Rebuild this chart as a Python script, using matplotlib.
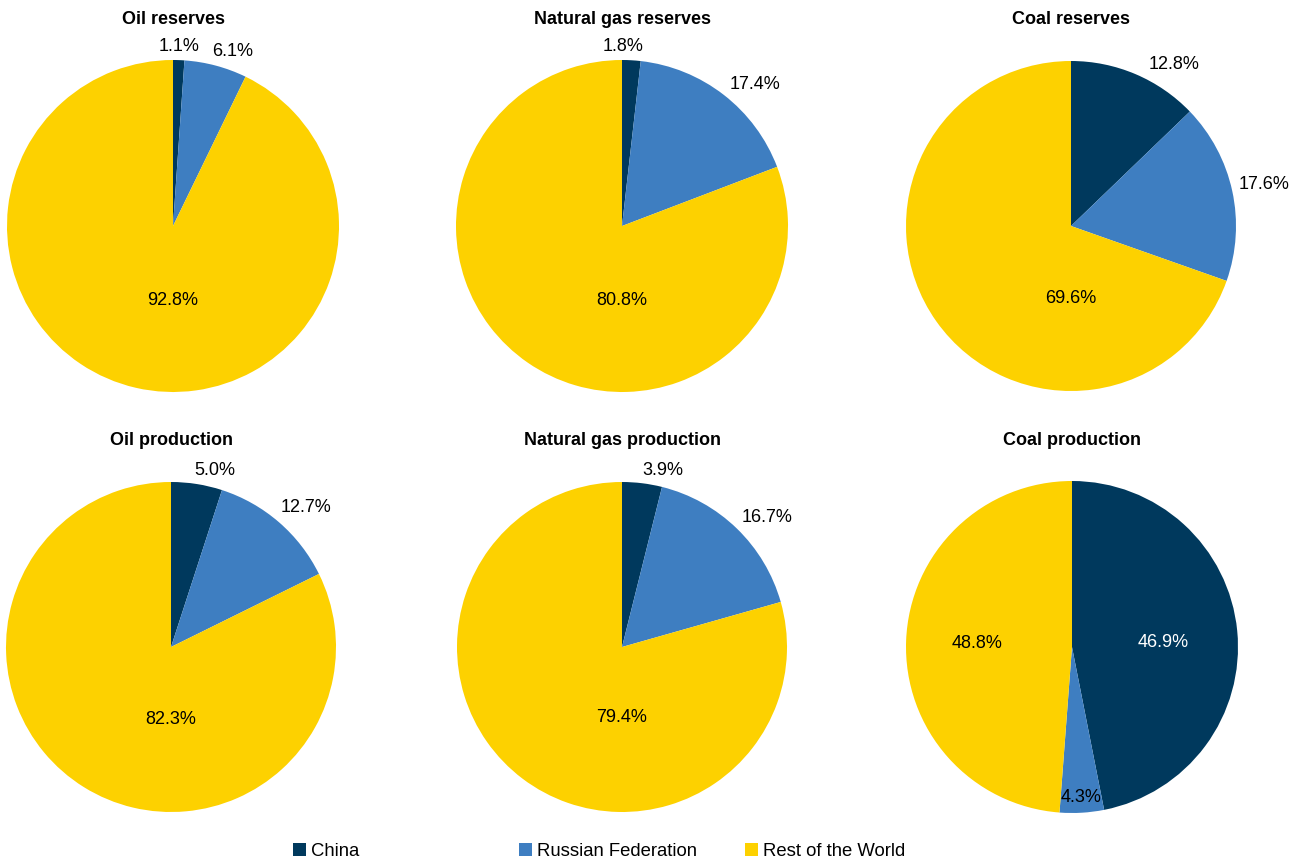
#!/usr/bin/env python3
"""China / Russia shares of world fossil fuel reserves and production."""

import numpy as np
import matplotlib
matplotlib.use("Agg")
import matplotlib.pyplot as plt
from matplotlib.patches import Patch

plt.rcParams["font.family"] = ["Liberation Sans", "DejaVu Sans"]

W, H = 1305, 864

SERIES = ["China", "Russian Federation", "Rest of the World"]
COLORS = ["#00395D", "#3E7EC1", "#FDD100"]

TITLES = [
    "Oil reserves", "Natural gas reserves", "Coal reserves",
    "Oil production", "Natural gas production", "Coal production",
]
# shares in percent: China, Russian Federation, Rest of the World
oil_reserves = [1.1, 6.1, 92.8]
gas_reserves = [1.8, 17.4, 80.8]
coal_reserves = [12.8, 17.6, 69.6]
oil_production = [5.0, 12.7, 82.3]
gas_production = [3.9, 16.7, 79.4]
coal_production = [46.9, 4.3, 48.8]
VALUES = [oil_reserves, gas_reserves, coal_reserves,
          oil_production, gas_production, coal_production]

# label placement: (distance from centre as fraction of radius, angle nudge in degrees)
LABEL_POS = [
    [(1.08, 0), (1.11, -4), (0.45, 0)],
    [(1.08, 3), (1.17, -5.4), (0.45, 0)],
    [(1.16, -9.5), (1.20, 0), (0.44, 0)],
    [(1.10, -5), (1.18, -3.2), (0.44, 0)],
    [(1.10, -6), (1.18, -4.2), (0.43, 0)],
    [(0.55, -3), (0.91, 0), (0.575, 0)],
]

# pie centres / radius in pixels
CENTERS = [(173, 226), (622, 226), (1071, 226), (171, 647), (622, 647), (1072, 647)]
RADII = [166, 166, 165, 165, 165, 166]
TITLE_Y = [20, 20, 20, 440, 440, 440]

fig = plt.figure(figsize=(W / 100, H / 100), dpi=100)

for title, vals, pos, (cx, cy), r, ty in zip(TITLES, VALUES, LABEL_POS, CENTERS, RADII, TITLE_Y):
    ax = fig.add_axes([(cx - r) / W, (H - cy - r) / H, 2 * r / W, 2 * r / H])
    wedges, _ = ax.pie(vals, colors=COLORS, startangle=90, counterclock=False,
                       wedgeprops=dict(linewidth=0))
    ax.set_xlim(-1, 1)
    ax.set_ylim(-1, 1)
    ax.set_aspect("equal")
    ax.axis("off")
    total = sum(vals)
    for i, (w, v, (d, nudge)) in enumerate(zip(wedges, vals, pos)):
        ang = (w.theta1 + w.theta2) / 2 + nudge
        if v / total > 0.6:
            # big slices get their label straight under the centre
            ang = -90
        ang = np.deg2rad(ang)
        color = "white" if (i == 0 and d < 1) else "black"
        ax.text(d * np.cos(ang), d * np.sin(ang), f"{v:.1f}%", ha="center", va="center",
                fontsize=13, color=color)
    fig.text(cx / W, 1 - ty / H, title, ha="center", va="center",
             fontsize=13, fontweight="bold")

legend_x = [293, 519, 745]
for name, color, lx in zip(SERIES, COLORS, legend_x):
    fig.legend(handles=[Patch(color=color, linewidth=0)], labels=[name],
               loc="center left", bbox_to_anchor=(lx / W, 1 - 851 / H),
               frameon=False, fontsize=13.3, handlelength=0.7, handleheight=0.7,
               handletextpad=0.25, borderpad=0, borderaxespad=0)

fig.savefig("out.png", dpi=100, facecolor="white")
